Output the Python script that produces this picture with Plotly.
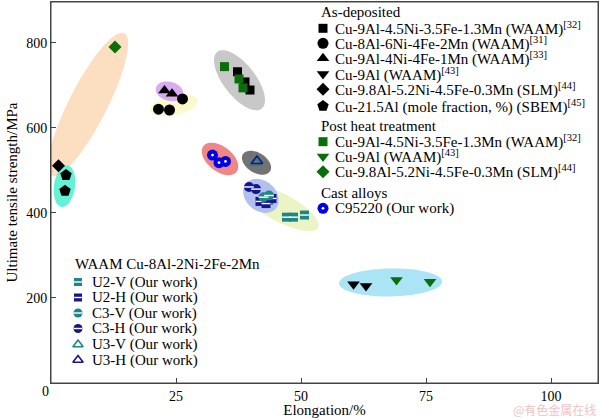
import numpy as np
import plotly.graph_objects as go

# ---------------- data (elongation %, UTS MPa) ----------------
# As-deposited
ad_sq_x = [37.3, 38.8, 39.8]          # Cu-9Al-4.5Ni-3.5Fe-1.3Mn (WAAM)[32]
ad_sq_y = [732, 708, 689]
ad_ci_x = [21.5, 23.7, 26.3]          # Cu-8Al-6Ni-4Fe-2Mn (WAAM)[31]
ad_ci_y = [644, 642, 668]
ad_tu_x = [22.7, 24.2]                # Cu-9Al-4Ni-4Fe-1Mn (WAAM)[33]
ad_tu_y = [688, 680]
ad_td_x = [60.5, 63.0]                # Cu-9Al (WAAM)[43]
ad_td_y = [232, 228]
ad_di_x = [1.5]                       # Cu-9.8Al-5.2Ni-4.5Fe-0.3Mn (SLM)[44]
ad_di_y = [511]
ad_pe_x = [3.0, 2.8]                  # Cu-21.5Al (SBEM)[45]
ad_pe_y = [489, 452]
# Post heat treatment
ht_sq_x = [34.7, 37.6, 38.4]
ht_sq_y = [744, 715, 694]
ht_td_x = [69.1, 75.8]
ht_td_y = [242, 238]
ht_di_x = [12.8]
ht_di_y = [790]
# Cast alloys
cast_x = [32.3, 33.6, 34.9]
cast_y = [536, 518, 521]
# WAAM Cu-8Al-2Ni-2Fe-2Mn (our work)
u2v_x = [47.1, 48.5, 50.7, 43.6]
u2v_y = [390, 390, 395, 430]
u2h_x = [41.8, 44.2, 43.0]
u2h_y = [427, 434, 422]
c3v_x = [42.5, 43.6]
c3v_y = [437, 441]
c3h_x = [39.6, 41.0]
c3h_y = [461, 456]
u3v_x = [40.9]
u3v_y = [518]
u3h_x = [41.2]
u3h_y = [522]

x_ticks = [25, 50, 75, 100]
y_ticks = [200, 400, 600, 800]

lbl_ad = ["Cu-9Al-4.5Ni-3.5Fe-1.3Mn (WAAM)<sup>[32]</sup>",
          "Cu-8Al-6Ni-4Fe-2Mn (WAAM)<sup>[31]</sup>",
          "Cu-9Al-4Ni-4Fe-1Mn (WAAM)<sup>[33]</sup>",
          "Cu-9Al (WAAM)<sup>[43]</sup>",
          "Cu-9.8Al-5.2Ni-4.5Fe-0.3Mn (SLM)<sup>[44]</sup>",
          "Cu-21.5Al (mole fraction, %) (SBEM)<sup>[45]</sup>"]
lbl_ht = ["Cu-9Al-4.5Ni-3.5Fe-1.3Mn (WAAM)<sup>[32]</sup>",
          "Cu-9Al (WAAM)<sup>[43]</sup>",
          "Cu-9.8Al-5.2Ni-4.5Fe-0.3Mn (SLM)<sup>[44]</sup>"]
lbl_cast = ["C95220 (Our work)"]
lbl_our = ["U2-V (Our work)", "U2-H (Our work)", "C3-V (Our work)",
           "C3-H (Our work)", "U3-V (Our work)", "U3-H (Our work)"]
hdr_ad, hdr_ht, hdr_cast = "As-deposited", "Post heat treatment", "Cast alloys"
hdr_our = "WAAM Cu-8Al-2Ni-2Fe-2Mn"

# ---------------- styles ----------------
FONT = "Liberation Serif"
BLACK = "#000000"
GREEN = "#0a6e0a"
NAVY = "#16168c"
TEAL = "#1f8585"
BLUE = "#0000e6"

W, H = 600, 418
L, R, T, B = 51, 2, 2, 35
XR = [0, 109.4]
YR = [0, 896]
SX = (W - L - R) / (XR[1] - XR[0])
SY = (H - T - B) / (YR[1] - YR[0])

fig = go.Figure()

# highlight ellipses: centre (data), semi-axes (px), angle (deg)
ELLIPSES = [
    (7.4, 655, 80, 19, 63, "rgb(252,222,192)"),
    (2.7, 463, 21, 10.5, 82, "rgb(100,242,215)"),
    (24.6, 653, 24, 10, 12, "rgb(250,250,205)"),
    (23.7, 686, 14, 9.5, -15, "rgb(215,172,240)"),
    (37.7, 712, 36, 16, -52, "rgb(200,200,200)"),
    (33.8, 527, 21, 12.5, -38, "rgb(240,135,135)"),
    (41.1, 518, 16, 10, -32, "rgb(115,115,115)"),
    (46.0, 412, 42, 14, -28, "rgb(234,244,196)"),
    (42.0, 440, 19.5, 15, -40, "rgb(178,192,240)"),
    (67.9, 236.5, 51.5, 14, 1, "rgb(170,228,245)"),
]
shapes = []
for cx, cy, a, b, ang, col in ELLIPSES:
    t = np.linspace(0, 2 * np.pi, 73)
    th = np.radians(ang)
    u, v = a * np.cos(t), b * np.sin(t)
    px = u * np.cos(th) - v * np.sin(th)
    py = u * np.sin(th) + v * np.cos(th)
    xs = cx + px / SX
    ys = cy + py / SY
    path = "M " + " L ".join(f"{x:.3f},{y:.2f}" for x, y in zip(xs, ys)) + " Z"
    shapes.append(dict(type="path", path=path, xref="x", yref="y",
                       fillcolor=col, line=dict(width=0), layer="below"))
# plot frame
shapes.append(dict(type="rect", xref="paper", yref="paper", x0=0, x1=1, y0=0, y1=1,
                   line=dict(color="#444444", width=1), fillcolor="rgba(0,0,0,0)",
                   layer="above"))


def add_pts(x, y, symbol, color, size, xaxis="x", yaxis="y", open_=False, stripe=False, sphere=False):
    mk = dict(symbol=symbol, size=size, color=color, line=dict(width=0))
    if open_:
        mk = dict(symbol=symbol, size=size, color=color, line=dict(width=1.6, color=color))
    fig.add_trace(go.Scatter(x=x, y=y, mode="markers", marker=mk, showlegend=False,
                             hoverinfo="skip", xaxis=xaxis, yaxis=yaxis))
    if stripe:
        fig.add_trace(go.Scatter(x=x, y=y, mode="markers",
                                 marker=dict(symbol="line-ew", size=size * 0.7,
                                             line=dict(width=1.4, color="white")),
                                 showlegend=False, hoverinfo="skip", xaxis=xaxis, yaxis=yaxis))
    if sphere:
        fig.add_trace(go.Scatter(x=x, y=y, mode="markers",
                                 marker=dict(symbol="circle", size=size * 0.25, color="white",
                                             line=dict(width=0)),
                                 showlegend=False, hoverinfo="skip", xaxis=xaxis, yaxis=yaxis))

# series styles
SERIES_AD = [
    (ad_sq_x, ad_sq_y, "square", BLACK, 9),
    (ad_ci_x, ad_ci_y, "circle", BLACK, 11),
    (ad_tu_x, ad_tu_y, "triangle-up", BLACK, 11),
    (ad_td_x, ad_td_y, "triangle-down", BLACK, 11),
    (ad_di_x, ad_di_y, "diamond", BLACK, 10),
    (ad_pe_x, ad_pe_y, "pentagon", BLACK, 12),
]
SERIES_HT = [
    (ht_sq_x, ht_sq_y, "square", GREEN, 9),
    (ht_td_x, ht_td_y, "triangle-down", GREEN, 11),
    (ht_di_x, ht_di_y, "diamond", GREEN, 10),
]
SERIES_OUR = [
    (u2v_x, u2v_y, "square", TEAL, 9, dict(stripe=True)),
    (u2h_x, u2h_y, "square", NAVY, 9, dict(stripe=True)),
    (c3v_x, c3v_y, "circle", TEAL, 10, dict(stripe=True)),
    (c3h_x, c3h_y, "circle", NAVY, 10, dict(stripe=True)),
    (u3v_x, u3v_y, "triangle-up-open", TEAL, 10, dict(open_=True)),
    (u3h_x, u3h_y, "triangle-up-open", NAVY, 10, dict(open_=True)),
]

for x, y, s, c, z in SERIES_AD + SERIES_HT:
    add_pts(x, y, s, c, z)
add_pts(cast_x, cast_y, "circle", BLUE, 11, sphere=True)
for x, y, s, c, z, kw in SERIES_OUR:
    add_pts(x, y, s, c, z, **kw)

# ---------------- manual legends (separate pixel-unit subplot on top) ----------------
annos = []
PW, PH = W - L - R, H - T - B


def txt(x, y, s, size=15, anchor="left", color="black", family=FONT):
    # x, y in figure pixels from the top-left corner -> paper coordinates
    annos.append(dict(x=(x - L) / PW, y=(H - B - y) / PH, xref="paper", yref="paper",
                      text=s, showarrow=False, xanchor=anchor, yanchor="middle",
                      font=dict(family=family, size=size, color=color)))

MX, TX = 323, 333
rows_ad = [28.3, 43.3, 58.3, 74, 89.3, 106]
rows_ht = [141.7, 156.5, 171.7]
txt(319, 12.3, hdr_ad)
for (x, y, s, c, z), lab, ry in zip(SERIES_AD, lbl_ad, rows_ad):
    add_pts([MX], [ry], s, c, z, xaxis="x2", yaxis="y2")
    txt(TX, ry, lab)
txt(319, 126, hdr_ht)
for (x, y, s, c, z), lab, ry in zip(SERIES_HT, lbl_ht, rows_ht):
    add_pts([MX], [ry], s, c, z, xaxis="x2", yaxis="y2")
    txt(TX, ry, lab)
txt(319, 192.7, hdr_cast)
add_pts([MX], [208.3], "circle", BLUE, 11, xaxis="x2", yaxis="y2", sphere=True)
txt(TX, 208.3, lbl_cast[0])

rows_our = [282, 297.5, 313, 328.5, 344.5, 360]
txt(73, 264, hdr_our)
for (x, y, s, c, z, kw), lab, ry in zip(SERIES_OUR, lbl_our, rows_our):
    add_pts([78], [ry], s, c, z - 1, xaxis="x2", yaxis="y2", **kw)
    txt(90, ry, lab)

# corner zero label and watermark
txt(45, 391, "0", size=14, anchor="center")
txt(598, 409, "@有色金属在线", size=12, anchor="right", color="rgb(240,196,196)",
    family="Noto Sans CJK SC")

axis_common = dict(showline=True, linecolor="#444444", linewidth=1, mirror=True,
                   ticks="inside", ticklen=5, tickcolor="#444444", showgrid=False,
                   zeroline=False, automargin=False,
                   tickfont=dict(family=FONT, size=14, color="black"))

fig.update_layout(
    width=W, height=H, template="none",
    paper_bgcolor="white", plot_bgcolor="rgba(0,0,0,0)",
    margin=dict(l=L, r=R, t=T, b=B, pad=0),
    xaxis=dict(range=XR, tickvals=x_ticks, domain=[0, 1], anchor="y",
               title=dict(text="Elongation/%", standoff=2,
                          font=dict(family=FONT, size=15, color="black")),
               **axis_common),
    yaxis=dict(range=YR, tickvals=y_ticks, domain=[0, 1], anchor="x",
               title=dict(text="Ultimate tensile strength/MPa", standoff=4,
                          font=dict(family=FONT, size=15, color="black")),
               **axis_common),
    xaxis2=dict(domain=[0, 1], anchor="y2", range=[L, W - R], visible=False, fixedrange=True),
    yaxis2=dict(domain=[0, 1], anchor="x2", range=[H - B, T], visible=False, fixedrange=True),
    shapes=shapes, annotations=annos, showlegend=False,
)

fig.write_html("out.html", config={"displayModeBar": False},
               post_script="document.body.style.margin='0px';")
